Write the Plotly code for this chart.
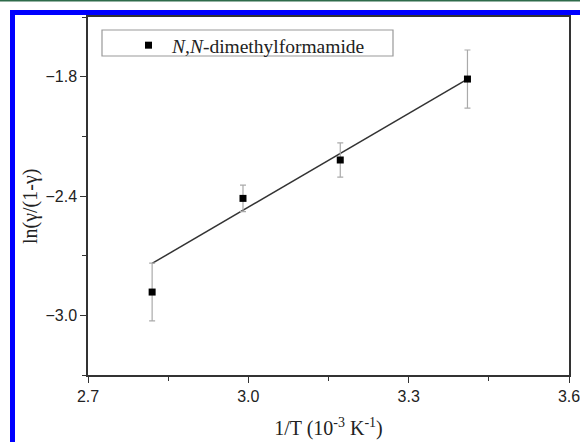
import plotly.graph_objects as go

# Data
inv_T = [2.820, 2.990, 3.172, 3.410]
ln_ratio = [-2.883, -2.412, -2.219, -1.812]
err = [0.145, 0.067, 0.086, 0.146]
fit_x = [2.820, 3.410]
fit_y = [-2.739, -1.812]

x_ticks = [2.7, 3.0, 3.3, 3.6]
y_ticks = [-3.0, -2.4, -1.8]

W, H = 580, 442
L, R, T, B = 88, 11, 17, 67
pw, ph = W - L - R, H - T - B


def px(x):
    return (x - L) / pw


def py(y):
    return (H - B - y) / ph


def fmt(v):
    s = f"{v:.1f}"
    return s.replace("-", "\u2212")


serif = "Liberation Serif, Times New Roman, serif"
sans = "Liberation Sans, Arial, sans-serif"

fig = go.Figure()
fig.add_trace(go.Scatter(
    x=fit_x, y=fit_y, mode="lines",
    line=dict(color="#333333", width=1.5),
    showlegend=False, hoverinfo="skip"))
fig.add_trace(go.Scatter(
    x=inv_T, y=ln_ratio, mode="markers",
    name="<i>N,N</i>-dimethylformamide",
    marker=dict(symbol="square", size=7, color="black"),
    error_y=dict(type="data", array=err, visible=True,
                 color="#aaaaaa", thickness=1.2, width=3)))

axis_common = dict(
    showline=True, linecolor="#333333", linewidth=1.5, mirror=True,
    ticks="outside", ticklen=6, tickwidth=1.3, tickcolor="#333333",
    showgrid=False, zeroline=False, automargin=False,
    ticklabeloverflow="allow",
    tickfont=dict(family=sans, size=16, color="#222"),
)

fig.update_xaxes(range=[2.7, 3.6], tickvals=x_ticks,
                 ticktext=[fmt(v) for v in x_ticks],
                 minor=dict(ticks="outside", ticklen=4, tickwidth=1.2,
                            tickcolor="#333333", dtick=0.15, tick0=2.7),
                 title=dict(text="1/T (10<sup>-3</sup> K<sup>-1</sup>)",
                            font=dict(family=serif, size=20, color="#222"),
                            standoff=17),
                 **axis_common)
fig.update_yaxes(range=[-3.3, -1.5], tickvals=y_ticks,
                 ticktext=[fmt(v) for v in y_ticks],
                 minor=dict(ticks="outside", ticklen=4, tickwidth=1.2,
                            tickcolor="#333333", dtick=0.3, tick0=-3.3),
                 **axis_common)

shapes = [
    # legend box
    dict(type="rect", xref="paper", yref="paper",
         x0=px(102), x1=px(393), y0=py(56), y1=py(30),
         line=dict(color="#999999", width=1.2), fillcolor="rgba(0,0,0,0)"),
    # blue frame (left and top)
    dict(type="rect", xref="paper", yref="paper",
         x0=px(10), x1=px(15), y0=py(442), y1=py(10),
         line=dict(width=0), fillcolor="#0000ff", layer="above"),
    dict(type="rect", xref="paper", yref="paper",
         x0=px(10), x1=px(580), y0=py(15), y1=py(10),
         line=dict(width=0), fillcolor="#0000ff", layer="above"),
    # thin green line at very top
    dict(type="rect", xref="paper", yref="paper",
         x0=px(0), x1=px(580), y0=py(1.5), y1=py(0),
         line=dict(width=0), fillcolor="#2e6b4a", layer="above"),
]

annotations = [
    dict(text="ln(γ/(1-γ)", textangle=-90, showarrow=False,
         xref="paper", yref="paper", x=px(30), y=py(207),
         xanchor="center", yanchor="middle",
         font=dict(family=serif, size=20, color="#222")),
]

fig.update_layout(
    width=W, height=H,
    margin=dict(l=L, r=R, t=T, b=B),
    paper_bgcolor="white", plot_bgcolor="white",
    shapes=shapes, annotations=annotations,
    showlegend=True,
    legend=dict(x=px(125), y=py(26), xanchor="left", yanchor="top",
                bgcolor="rgba(0,0,0,0)", borderwidth=0, itemwidth=37,
                font=dict(family=serif, size=19.5, color="#222")),
)

fig.write_html("out.html",
               config={"displayModeBar": False},
               post_script="document.body.style.margin='0';")
